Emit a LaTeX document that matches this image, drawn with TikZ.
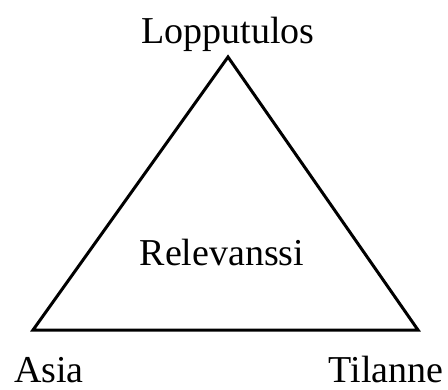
\documentclass[tikz,border=0pt]{standalone}
\usepackage{fontspec}
\setmainfont{Liberation Serif}
\begin{document}
\begin{tikzpicture}[x=1pt,y=-1pt,
  lbl/.style={anchor=base,inner sep=0pt,font=\fontsize{38}{40}\selectfont},
  edge/.style={line width=3pt,line join=miter}]
\useasboundingbox (0,0) rectangle (448,389);
\coordinate (top) at (228,57);
\coordinate (bl) at (33,330);
\coordinate (br) at (418,330);
\draw[edge] (top) -- (bl) -- (br) -- cycle;
\node[lbl] (lop) at (228,43) {Lopputulos};
\node[lbl] (rel) at (222,265) {Relevanssi};
\node[lbl] (asia) at (49,382) {Asia};
\node[lbl] (til) at (386,382) {Tilanne};
\end{tikzpicture}
\end{document}
